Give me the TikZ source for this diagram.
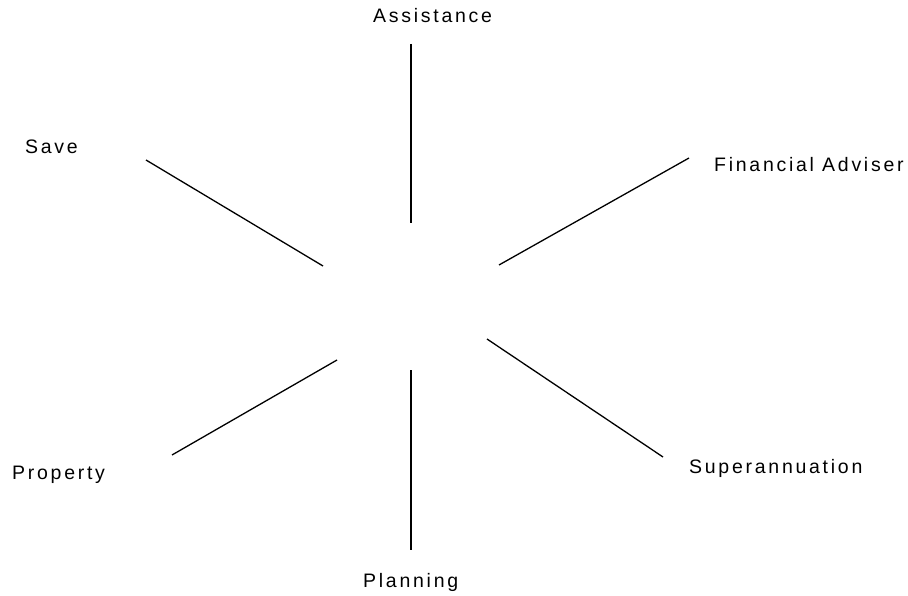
\documentclass[tikz,border=0pt]{standalone}
\usepackage{fontspec}
\setmainfont{Liberation Sans}[LetterSpace=14]
\begin{document}
\begin{tikzpicture}[x=1pt,y=-1pt,
  label/.style={inner sep=0pt,anchor=base west,font=\fontsize{19.5}{22}\selectfont},
  spoke/.style={line width=1.3pt,black}]
\useasboundingbox (0,0) rectangle (908,596);
% labels around the hub
\node[label] (assist) at (373,23) {Assistance};
\node[label] (save) at (25,154) {Save};
\node[label] (fin) at (714,172) {Financial Adviser};
\node[label] (prop) at (12,479) {Property};
\node[label] (super) at (689,473) {Superannuation};
\node[label] (plan) at (363,587) {Planning};
% spoke end points
\coordinate (a1) at (411,44);  \coordinate (a2) at (411,223);
\coordinate (s1) at (146,160); \coordinate (s2) at (323,266);
\coordinate (f1) at (689,158); \coordinate (f2) at (499,265);
\coordinate (p1) at (172,455); \coordinate (p2) at (337,360);
\coordinate (n1) at (411,370); \coordinate (n2) at (411,550);
\coordinate (u1) at (487,339); \coordinate (u2) at (663,457);
% spokes
\draw[spoke] (a1) -- (a2);
\draw[spoke] (s1) -- (s2);
\draw[spoke] (f1) -- (f2);
\draw[spoke] (p1) -- (p2);
\draw[spoke] (n1) -- (n2);
\draw[spoke] (u1) -- (u2);
\end{tikzpicture}
\end{document}
